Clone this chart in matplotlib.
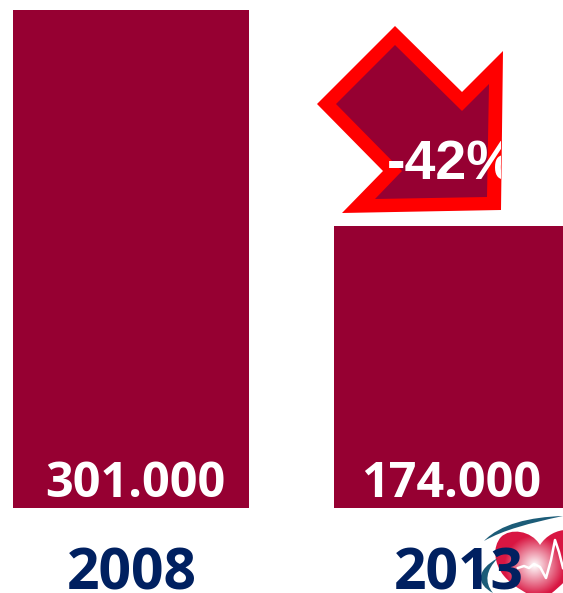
import numpy as np
from matplotlib import pyplot as plt
from matplotlib.patches import PathPatch, Polygon, Rectangle
from matplotlib.path import Path

years = ["2008", "2013"]
patients = [301000, 174000]
value_labels = ["301.000", "174.000"]
change_label = "-42%"

BAR = "#960032"
RED = "#ff0000"
NAVY = "#002060"
TEAL = "#1c5c78"
W, H = 563, 593

fig = plt.figure(figsize=(W / 100, H / 100), dpi=100)

# bars sit on a baseline a little above zero
ax = fig.add_axes([0, (H - 508) / H, 1, 498 / H])
ax.bar([131, 448.5], patients, width=[236, 229], color=BAR)
ax.set_xlim(0, W)
ax.set_ylim(8194, 301000)
ax.axis("off")

# overlay in pixel coordinates, y pointing down
top = fig.add_axes([0, 0, 1, 1], zorder=3)
top.set_xlim(0, W)
top.set_ylim(H, 0)
top.axis("off")

for x, label in zip([135, 451], value_labels):
    top.text(x, 497, label, color="white", fontsize=35, fontweight="bold",
             family="Open Sans", ha="center", va="baseline")

# down arrow with a thick red outline
outer = [(395, 26), (462, 92), (503, 51), (501, 210), (342, 213), (383, 171), (317, 104)]
inner = [(395, 45), (462, 111), (489, 84), (487, 197), (375, 199), (402, 171), (336, 104)]
top.add_patch(Polygon(outer, closed=True, fc=RED, ec="none"))
top.add_patch(Polygon(inner, closed=True, fc=BAR, ec="none"))

pct = top.text(387, 180, change_label, color="white", fontsize=40, fontweight="bold",
               family="Liberation Sans", ha="left", va="baseline")
pct.set_clip_path(Rectangle((380, 130), 121, 60, transform=top.transData))
pct.set_clip_on(True)

# heart logo, behind the year labels
heart = Path(
    [(540, 545), (531, 530), (510, 528), (501, 537), (492, 547), (494, 564), (504, 576),
     (514, 588), (530, 594), (540, 602), (552, 594), (578, 572), (590, 550), (584, 522),
     (552, 526), (540, 545), (540, 545)],
    [Path.MOVETO] + [Path.CURVE4] * 15 + [Path.CLOSEPOLY],
)
yy, xx = np.mgrid[515:600, 480:590]
dist = np.hypot(xx - 534, yy - 565) / 30
dist = np.clip(dist, 0, 1)
rgb = np.ones((*dist.shape, 3))
rgb[..., 0] = 1 - dist * (1 - 0.85)
rgb[..., 1] = 1 - dist * (1 - 0.09)
rgb[..., 2] = 1 - dist * (1 - 0.26)
img = top.imshow(rgb, extent=(480, 590, 600, 515), interpolation="bilinear", zorder=1, aspect="auto")
img.set_clip_path(PathPatch(heart, transform=top.transData))
top.set_xlim(0, W)
top.set_ylim(H, 0)

top.plot([518, 524, 529, 534, 540, 546, 551, 555, 559, 563],
         [568, 566, 568, 564, 567, 578, 560, 540, 552, 568],
         color="white", lw=1.8, zorder=2)

# swooshes around the heart
swoosh_top = Path([(484, 541), (500, 524), (530, 517), (563, 516), (530, 523), (503, 530), (484, 541)],
                  [Path.MOVETO] + [Path.CURVE4] * 6)
swoosh_low = Path([(493, 593), (476, 584), (476, 570), (498, 558), (486, 570), (484, 582), (493, 593)],
                  [Path.MOVETO] + [Path.CURVE4] * 6)
for s in (swoosh_top, swoosh_low):
    top.add_patch(PathPatch(s, fc=TEAL, ec="none", zorder=2))

for x, year in zip([131.5, 458.5], years):
    top.text(x, 590, year, color=NAVY, fontsize=41, fontweight="bold",
             family="Open Sans", ha="center", va="baseline", zorder=4)

fig.savefig("out.png", dpi=100)
